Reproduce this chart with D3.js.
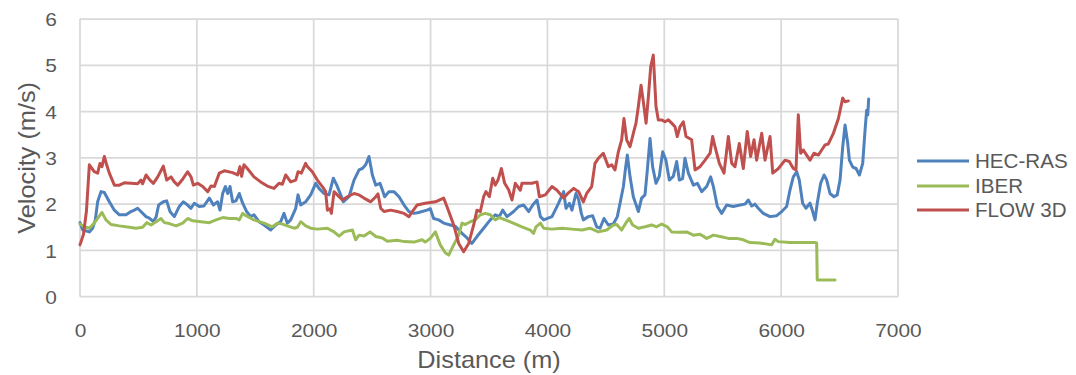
<!DOCTYPE html>
<html>
<head>
<meta charset="utf-8">
<script src="https://cdn.jsdelivr.net/npm/d3@7"></script>
<style>
  html, body { margin: 0; padding: 0; background: #fff; }
  svg { display: block; }
  text { font-family: "Liberation Sans", Arial, sans-serif; fill: #595959; }
</style>
</head>
<body>
<svg id="chart" width="1076" height="375"></svg>
<script>
// ---- data ----
const xTicks = [0, 1000, 2000, 3000, 4000, 5000, 6000, 7000];
const yTicks = [0, 1, 2, 3, 4, 5, 6];
const seriesNames = ["HEC-RAS", "IBER", "FLOW 3D"];
const seriesColors = ["#4F81BD", "#9BBB59", "#C0504D"];

const hecrasDist = [0,23,80,108,131,151,180,208,251,294,337,394,436,465,493,565,593,628,651,673,713,742,770,807,850,885,921,950,978,1021,1060,1107,1141,1178,1198,1221,1244,1264,1284,1306,1335,1363,1392,1426,1460,1489,1532,1575,1632,1675,1717,1746,1774,1803,1846,1866,1889,1931,1974,2017,2045,2088,2131,2168,2197,2231,2253,2302,2345,2388,2416,2445,2473,2502,2531,2567,2587,2607,2644,2687,2730,2773,2815,2858,2898,2969,2998,3026,3069,3112,3169,3212,3269,3312,3354,3397,3454,3511,3554,3588,3617,3654,3711,3754,3797,3840,3874,3911,3940,3968,4039,4096,4139,4159,4188,4210,4244,4267,4290,4307,4350,4387,4421,4450,4484,4521,4564,4598,4627,4650,4670,4684,4707,4735,4778,4806,4835,4855,4878,4900,4929,4957,4986,5014,5043,5077,5106,5129,5157,5177,5206,5249,5283,5320,5363,5397,5420,5454,5491,5534,5590,5648,5691,5719,5748,5776,5804,5847,5905,5962,6005,6047,6076,6104,6133,6155,6184,6212,6247,6270,6290,6309,6338,6367,6390,6418,6452,6480,6504,6527,6547,6570,6584,6613,6641,6670,6698,6718,6732,6741,6749];
const hecrasVel = [1.60,1.44,1.40,1.48,1.66,2.05,2.27,2.25,2.05,1.87,1.77,1.77,1.84,1.87,1.91,1.73,1.70,1.62,1.72,1.98,2.05,2.07,1.84,1.73,1.95,2.05,1.98,1.91,2.02,1.95,1.96,2.13,1.98,2.05,1.87,2.23,2.38,2.23,2.38,2.05,2.07,2.23,2.02,1.84,1.73,1.77,1.62,1.55,1.44,1.55,1.62,1.80,1.59,1.66,1.91,2.20,1.98,2.05,2.20,2.45,2.34,2.23,2.20,2.56,2.41,2.20,2.05,2.16,2.52,2.74,2.77,2.85,3.03,2.63,2.41,2.45,2.31,2.16,2.27,2.27,2.16,1.98,1.84,1.80,1.82,1.87,1.90,1.69,1.66,1.59,1.55,1.52,1.37,1.27,1.15,1.30,1.48,1.66,1.77,1.73,1.87,1.73,1.84,1.95,1.98,1.84,1.98,2.09,1.73,1.66,1.73,2.02,2.27,1.91,2.02,1.87,2.23,2.10,1.80,1.66,1.73,1.75,1.51,1.48,1.69,1.55,1.57,1.73,2.09,2.38,2.81,3.06,2.59,2.16,1.84,2.13,2.20,2.74,3.42,2.81,2.45,2.60,3.13,2.95,2.52,2.60,2.92,2.52,2.55,2.99,2.67,2.41,2.45,2.27,2.38,2.59,2.38,1.95,1.80,1.98,1.95,1.98,2.00,2.09,1.96,2.00,1.91,1.80,1.73,1.75,1.84,1.95,2.31,2.59,2.70,2.52,2.02,1.91,2.02,1.84,1.66,2.02,2.45,2.63,2.52,2.23,2.16,2.20,2.52,3.24,3.71,3.31,2.95,2.80,2.77,2.63,2.88,3.60,4.03,3.93,4.27];

const iberDist = [0,37,80,122,151,188,222,265,337,422,479,536,571,608,651,693,722,764,822,879,921,964,1035,1107,1164,1221,1278,1335,1363,1392,1420,1489,1575,1646,1689,1732,1774,1832,1860,1889,1931,1974,2031,2117,2174,2217,2260,2331,2359,2388,2430,2482,2531,2587,2630,2715,2773,2858,2927,2955,2998,3041,3083,3126,3155,3198,3241,3269,3297,3340,3383,3426,3468,3511,3554,3588,3640,3697,3782,3853,3882,3902,3940,3968,4039,4125,4210,4296,4364,4436,4507,4564,4593,4635,4678,4700,4729,4778,4835,4892,4935,4978,5026,5063,5134,5191,5249,5306,5363,5420,5477,5548,5619,5676,5733,5819,5919,5947,5976,6076,6190,6290,6304,6309,6390,6461];
const iberVel = [1.57,1.51,1.48,1.59,1.69,1.82,1.66,1.56,1.53,1.50,1.48,1.50,1.60,1.55,1.62,1.69,1.60,1.58,1.53,1.59,1.69,1.64,1.62,1.60,1.66,1.71,1.69,1.69,1.66,1.80,1.75,1.66,1.59,1.51,1.59,1.57,1.53,1.48,1.50,1.62,1.53,1.48,1.46,1.48,1.40,1.31,1.40,1.44,1.23,1.33,1.31,1.40,1.30,1.27,1.20,1.22,1.19,1.18,1.23,1.18,1.26,1.40,1.12,0.95,0.90,1.12,1.33,1.59,1.56,1.62,1.66,1.77,1.80,1.77,1.66,1.71,1.66,1.60,1.51,1.44,1.37,1.51,1.59,1.48,1.46,1.48,1.46,1.44,1.48,1.40,1.44,1.55,1.56,1.44,1.62,1.69,1.55,1.48,1.51,1.55,1.51,1.57,1.51,1.40,1.39,1.40,1.33,1.35,1.26,1.33,1.30,1.26,1.26,1.23,1.17,1.16,1.12,1.24,1.19,1.17,1.17,1.17,1.16,0.36,0.36,0.36];

const flowDist = [0,30,55,80,122,151,171,188,208,228,251,294,337,379,493,522,536,565,599,628,665,713,742,779,807,836,873,921,950,970,1007,1050,1093,1121,1150,1192,1235,1306,1349,1369,1383,1403,1432,1489,1546,1603,1660,1703,1732,1760,1803,1846,1866,1894,1931,1946,1988,2031,2074,2102,2117,2139,2151,2174,2245,2288,2345,2388,2430,2488,2531,2550,2573,2601,2658,2715,2773,2815,2844,2884,2955,3041,3112,3140,3198,3241,3283,3326,3369,3397,3426,3454,3474,3503,3532,3554,3577,3606,3634,3668,3697,3725,3768,3782,3868,3911,3931,3982,4039,4082,4139,4182,4225,4267,4307,4336,4379,4407,4436,4478,4521,4550,4578,4607,4635,4655,4678,4707,4735,4758,4778,4801,4821,4844,4864,4884,4906,4929,4949,4978,5006,5035,5063,5092,5111,5134,5163,5186,5234,5263,5306,5349,5392,5414,5434,5471,5511,5548,5577,5605,5642,5676,5710,5739,5768,5790,5834,5862,5905,5928,5977,6033,6070,6104,6127,6147,6167,6190,6218,6247,6281,6318,6347,6376,6404,6447,6490,6527,6546,6575];
const flowVel = [1.12,1.35,1.85,2.85,2.70,2.67,2.88,2.81,3.03,2.85,2.67,2.41,2.41,2.46,2.44,2.52,2.44,2.63,2.52,2.45,2.59,2.82,2.52,2.59,2.48,2.41,2.52,2.70,2.59,2.41,2.45,2.38,2.27,2.39,2.38,2.67,2.72,2.68,2.63,2.81,2.60,2.85,2.77,2.59,2.48,2.39,2.34,2.45,2.43,2.63,2.48,2.52,2.70,2.67,2.88,2.81,2.70,2.52,2.38,2.27,1.87,1.90,1.80,2.27,2.09,2.16,2.23,2.20,2.13,2.05,2.16,2.22,1.91,1.84,1.87,1.84,1.80,1.73,1.84,1.98,2.02,2.05,2.13,1.95,1.55,1.15,0.97,1.15,1.55,1.87,1.84,2.16,2.27,2.16,2.56,2.41,2.52,2.77,2.45,2.31,2.09,2.45,2.30,2.45,2.45,2.48,2.16,2.20,2.38,2.30,2.13,2.25,2.34,2.27,2.05,2.23,2.38,2.88,2.99,3.10,2.81,2.85,2.74,3.13,3.39,3.85,3.39,3.24,3.53,3.75,4.11,4.57,4.21,3.75,4.32,4.97,5.22,4.11,3.82,3.82,3.78,3.82,3.75,3.67,3.46,3.67,3.78,3.46,3.39,2.74,2.81,2.95,3.10,3.46,3.24,2.88,2.67,3.46,2.88,2.81,3.31,2.77,3.57,3.03,3.39,2.95,3.53,2.95,3.46,2.67,2.77,2.95,2.92,2.77,2.74,3.93,3.10,3.17,3.06,2.95,3.10,3.06,3.17,3.28,3.30,3.53,3.85,4.29,4.21,4.23];

const series = [
  { name: seriesNames[0], color: seriesColors[0], dist: hecrasDist, vel: hecrasVel },
  { name: seriesNames[1], color: seriesColors[1], dist: iberDist, vel: iberVel },
  { name: seriesNames[2], color: seriesColors[2], dist: flowDist, vel: flowVel }
];

// ---- chart ----
const svg = d3.select("#chart");
svg.append("rect").attr("width", 1076).attr("height", 375).attr("fill", "#fff");

const x = d3.scaleLinear().domain([0, 7000]).range([80, 898]);
const y = d3.scaleLinear().domain([0, 6]).range([296.7, 19]);

const grid = svg.append("g");
grid.selectAll("line.v").data(xTicks).enter().append("line")
  .attr("x1", d => x(d)).attr("x2", d => x(d))
  .attr("y1", y(0)).attr("y2", y(6))
  .attr("stroke", "#D9D9D9").attr("stroke-width", 1.75);
grid.selectAll("line.h").data(yTicks).enter().append("line")
  .attr("x1", x(0)).attr("x2", x(7000))
  .attr("y1", d => y(d)).attr("y2", d => y(d))
  .attr("stroke", "#D9D9D9").attr("stroke-width", 1.75);

const xAxis = svg.append("g").attr("transform", `translate(0,${y(0)})`)
  .call(d3.axisBottom(x).tickValues(xTicks).tickSize(0).tickFormat(d3.format("d")));
xAxis.select(".domain").remove();
xAxis.selectAll("text")
  .attr("y", 40.5).attr("dy", null)
  .style("font-size", "19px").style("fill", "#595959")
  .style("font-family", '"Liberation Sans", Arial, sans-serif')
  .attr("transform", "scale(1.1,1)");

const yAxis = svg.append("g").attr("transform", `translate(${x(0)},0)`)
  .call(d3.axisLeft(y).tickValues(yTicks).tickSize(0).tickFormat(d3.format("d")));
yAxis.select(".domain").remove();
yAxis.selectAll("text")
  .attr("x", -21).attr("dy", "0.35em")
  .style("font-size", "19px").style("fill", "#595959")
  .style("font-family", '"Liberation Sans", Arial, sans-serif')
  .attr("transform", "scale(1.1,1)");

// lines
const line = d3.line().x(d => x(d[0])).y(d => y(d[1]));
series.forEach(s => {
  const pts = s.dist.map((d, i) => [d, s.vel[i]]);
  svg.append("path").datum(pts)
    .attr("d", line)
    .attr("fill", "none")
    .attr("stroke", s.color)
    .attr("stroke-width", 3)
    .attr("stroke-linejoin", "round")
    .attr("stroke-linecap", "round");
});

// axis titles
svg.append("text")
  .attr("transform", `translate(${(x(0) + x(7000)) / 2},368) scale(1.1,1)`)
  .attr("text-anchor", "middle")
  .style("font-size", "23px")
  .text("Distance (m)");

svg.append("text")
  .attr("transform", `translate(35,${(y(0) + y(6)) / 2}) rotate(-90) scale(1.1,1)`)
  .attr("text-anchor", "middle")
  .style("font-size", "23px")
  .text("Velocity (m/s)");

// legend
const legendY = [161, 186, 210];
const legend = svg.append("g");
series.forEach((s, i) => {
  legend.append("line")
    .attr("x1", 917).attr("x2", 969)
    .attr("y1", legendY[i]).attr("y2", legendY[i])
    .attr("stroke", s.color).attr("stroke-width", 3);
  legend.append("text")
    .attr("transform", `translate(975,${legendY[i]}) scale(1.03,1)`)
    .attr("dy", "0.35em")
    .style("font-size", "20px")
    .text(s.name);
});
</script>
</body>
</html>
